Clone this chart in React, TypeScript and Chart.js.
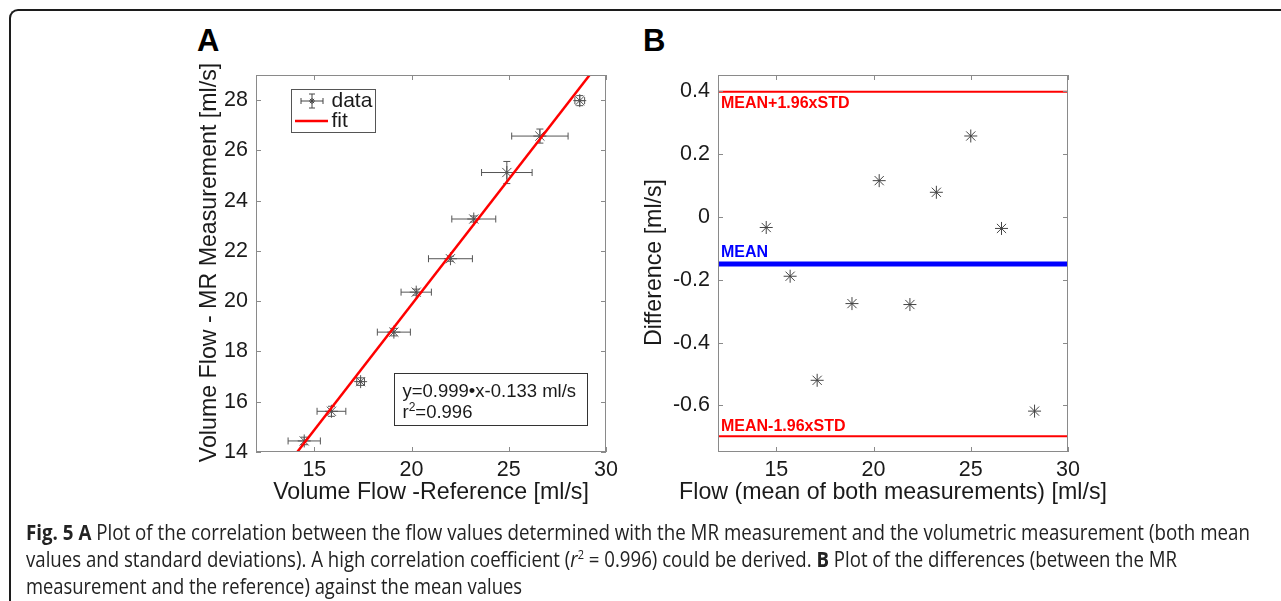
import React, { useEffect, useLayoutEffect, useRef } from "react";
import { Chart, registerables } from "chart.js";

Chart.register(...registerables);

// ---------- data (panel A) ----------
const refFlow = [14.48, 15.88, 17.38, 19.09, 20.24, 22.0, 23.2, 24.9, 26.6, 28.65];
const mrFlow = [14.44, 15.62, 16.8, 18.77, 20.36, 21.69, 23.27, 25.12, 26.57, 27.98];
const refErr = [0.83, 0.74, 0.2, 0.85, 0.78, 1.13, 1.13, 1.3, 1.45, 0.25];
const mrErr = [0.15, 0.2, 0.15, 0.15, 0.12, 0.1, 0.12, 0.44, 0.28, 0.2];
const fitX = [14.12, 29.16];
const fitY = [14.0, 29.0];

// ---------- data (panel B) ----------
const meanFlow = [14.48, 15.71, 17.1, 18.89, 20.29, 21.87, 23.23, 25.0, 26.58, 28.28];
const diffFlow = [-0.034, -0.189, -0.52, -0.276, 0.115, -0.279, 0.078, 0.257, -0.037, -0.618];
const meanDiff = -0.15;
const upperLimit = 0.398;
const lowerLimit = -0.698;

// ---------- ticks ----------
const X_TICKS = [15, 20, 25, 30];
const X_TICK_LABELS = ["15", "20", "25", "30"];
const Y_TICKS_A = [14, 16, 18, 20, 22, 24, 26, 28];
const Y_TICK_LABELS_A = ["14", "16", "18", "20", "22", "24", "26", "28"];
const Y_TICKS_B = [-0.6, -0.4, -0.2, 0, 0.2, 0.4];
const Y_TICK_LABELS_B = ["-0.6", "-0.4", "-0.2", "0", "0.2", "0.4"];

const FONT = "'Liberation Sans', Arial, Helvetica, sans-serif";
const TEXT = "#1a1a1a";
const BOX = "#8a8a8a";
const RED = "#ff0000";
const BLUE = "#0000ff";

function drawBoxAndTicks(chart: any, xt: number[], yt: number[]) {
  const { ctx, chartArea: a } = chart;
  const sx = chart.scales.x;
  const sy = chart.scales.y;
  ctx.save();
  ctx.strokeStyle = BOX;
  ctx.lineWidth = 1;
  ctx.strokeRect(a.left + 0.5, a.top + 0.5, a.right - a.left - 1, a.bottom - a.top - 1);
  ctx.beginPath();
  for (const v of xt) {
    const p = Math.round(sx.getPixelForValue(v)) + 0.5;
    ctx.moveTo(p, a.bottom);
    ctx.lineTo(p, a.bottom - 5);
    ctx.moveTo(p, a.top);
    ctx.lineTo(p, a.top + 5);
  }
  for (const v of yt) {
    const p = Math.round(sy.getPixelForValue(v)) + 0.5;
    ctx.moveTo(a.left, p);
    ctx.lineTo(a.left + 5, p);
    ctx.moveTo(a.right, p);
    ctx.lineTo(a.right - 5, p);
  }
  ctx.stroke();
  ctx.restore();
}

function drawTitles(chart: any, xTitle: string, yTitle: string, yTitleX: number, xTitleY: number) {
  const { ctx, chartArea: a } = chart;
  ctx.save();
  ctx.fillStyle = TEXT;
  ctx.font = `23.2px ${FONT}`;
  ctx.textAlign = "center";
  ctx.textBaseline = "middle";
  ctx.fillText(xTitle, (a.left + a.right) / 2, xTitleY);
  ctx.translate(yTitleX, (a.top + a.bottom) / 2 - 1);
  ctx.rotate(-Math.PI / 2);
  ctx.fillText(yTitle, 0, 0);
  ctx.restore();
}

function star(ctx: CanvasRenderingContext2D, x: number, y: number, r: number) {
  ctx.beginPath();
  ctx.moveTo(x - r, y);
  ctx.lineTo(x + r, y);
  ctx.moveTo(x, y - r);
  ctx.lineTo(x, y + r);
  const d = r * Math.SQRT1_2;
  ctx.moveTo(x - d, y - d);
  ctx.lineTo(x + d, y + d);
  ctx.moveTo(x - d, y + d);
  ctx.lineTo(x + d, y - d);
  ctx.stroke();
}

const pluginA = {
  id: "panelA",
  beforeDatasetsDraw(chart: any) {
    const { ctx } = chart;
    const sx = chart.scales.x;
    const sy = chart.scales.y;
    ctx.save();
    ctx.strokeStyle = "#555";
    ctx.lineWidth = 1;
    const cap = 3.5;
    ctx.beginPath();
    for (let i = 0; i < refFlow.length; i++) {
      const cx = sx.getPixelForValue(refFlow[i]);
      const cy = sy.getPixelForValue(mrFlow[i]);
      const x0 = sx.getPixelForValue(refFlow[i] - refErr[i]);
      const x1 = sx.getPixelForValue(refFlow[i] + refErr[i]);
      const y0 = sy.getPixelForValue(mrFlow[i] - mrErr[i]);
      const y1 = sy.getPixelForValue(mrFlow[i] + mrErr[i]);
      ctx.moveTo(x0, cy); ctx.lineTo(x1, cy);
      ctx.moveTo(x0, cy - cap); ctx.lineTo(x0, cy + cap);
      ctx.moveTo(x1, cy - cap); ctx.lineTo(x1, cy + cap);
      ctx.moveTo(cx, y0); ctx.lineTo(cx, y1);
      ctx.moveTo(cx - cap, y0); ctx.lineTo(cx + cap, y0);
      ctx.moveTo(cx - cap, y1); ctx.lineTo(cx + cap, y1);
    }
    ctx.stroke();
    ctx.fillStyle = "#222";
    for (let i = 0; i < refFlow.length; i++) {
      const cx = sx.getPixelForValue(refFlow[i]);
      const cy = sy.getPixelForValue(mrFlow[i]);
      ctx.fillRect(cx - 1, cy - 1, 2, 2);
    }
    ctx.restore();
  },
  afterDatasetsDraw(chart: any) {
    const { ctx, chartArea: a } = chart;
    drawBoxAndTicks(chart, X_TICKS, Y_TICKS_A);
    drawTitles(chart, "Volume Flow -Reference [ml/s]", "Volume Flow - MR Measurement [ml/s]", 60, 493);
    ctx.save();
    // legend
    const lx = a.left + 35;
    const ly = a.top + 14;
    ctx.fillStyle = "#fff";
    ctx.fillRect(lx, ly, 84, 43);
    ctx.strokeStyle = "#555";
    ctx.lineWidth = 1;
    ctx.strokeRect(lx + 0.5, ly + 0.5, 84, 43);
    const r1 = ly + 12;
    const ix = lx + 21;
    ctx.strokeStyle = "#444";
    ctx.beginPath();
    ctx.moveTo(ix - 11, r1); ctx.lineTo(ix + 11, r1);
    ctx.moveTo(ix - 11, r1 - 3); ctx.lineTo(ix - 11, r1 + 3);
    ctx.moveTo(ix + 11, r1 - 3); ctx.lineTo(ix + 11, r1 + 3);
    ctx.moveTo(ix, r1 - 7); ctx.lineTo(ix, r1 + 7);
    ctx.moveTo(ix - 3, r1 - 7); ctx.lineTo(ix + 3, r1 - 7);
    ctx.moveTo(ix - 3, r1 + 7); ctx.lineTo(ix + 3, r1 + 7);
    ctx.stroke();
    star(ctx, ix, r1, 3);
    const r2 = ly + 32;
    ctx.strokeStyle = RED;
    ctx.lineWidth = 2.5;
    ctx.beginPath();
    ctx.moveTo(lx + 4, r2);
    ctx.lineTo(lx + 37, r2);
    ctx.stroke();
    ctx.fillStyle = TEXT;
    ctx.font = `21px ${FONT}`;
    ctx.textBaseline = "middle";
    ctx.textAlign = "left";
    ctx.fillText("data", lx + 40.5, r1);
    ctx.fillText("fit", lx + 40.5, r2);
    // annotation box
    const bx = a.right - 212;
    const by = a.bottom - 79;
    ctx.fillStyle = "#fff";
    ctx.fillRect(bx, by, 193, 52);
    ctx.strokeStyle = "#333";
    ctx.lineWidth = 1;
    ctx.strokeRect(bx + 0.5, by + 0.5, 193, 52);
    ctx.fillStyle = TEXT;
    ctx.font = `18.5px ${FONT}`;
    ctx.textBaseline = "alphabetic";
    ctx.fillText("y=0.999\u2022x-0.133 ml/s", bx + 8.5, by + 24);
    const bl = by + 45;
    ctx.fillText("r", bx + 8.5, bl);
    const w = ctx.measureText("r").width;
    ctx.font = `12px ${FONT}`;
    ctx.fillText("2", bx + 8.5 + w, bl - 7);
    const w2 = ctx.measureText("2").width;
    ctx.font = `18.5px ${FONT}`;
    ctx.fillText("=0.996", bx + 8.5 + w + w2, bl);
    ctx.restore();
  },
};

const pluginB = {
  id: "panelB",
  afterDatasetsDraw(chart: any) {
    const { ctx, chartArea: a } = chart;
    const sy = chart.scales.y;
    drawBoxAndTicks(chart, X_TICKS, Y_TICKS_B);
    drawTitles(chart, "Flow (mean of both measurements) [ml/s]", "Difference [ml/s]", 55, 493);
    ctx.save();
    ctx.font = `bold 16px ${FONT}`;
    ctx.textBaseline = "middle";
    ctx.textAlign = "left";
    ctx.fillStyle = RED;
    ctx.fillText("MEAN+1.96xSTD", a.left + 3, sy.getPixelForValue(upperLimit) + 12);
    ctx.fillText("MEAN-1.96xSTD", a.left + 3, sy.getPixelForValue(lowerLimit) - 10);
    ctx.fillStyle = BLUE;
    ctx.fillText("MEAN", a.left + 3, sy.getPixelForValue(meanDiff) - 11.5);
    ctx.restore();
  },
};

function xScale() {
  return {
    type: "linear",
    min: 12,
    max: 30,
    afterBuildTicks: (s: any) => {
      s.ticks = X_TICKS.map((v) => ({ value: v }));
    },
    afterFit: (s: any) => {
      s.height = 68;
    },
    grid: { display: false, drawTicks: false },
    border: { display: false },
    ticks: {
      padding: 5,
      color: TEXT,
      font: { family: FONT, size: 21.5 },
      maxRotation: 0,
      callback: (_v: any, i: number) => X_TICK_LABELS[i],
    },
  };
}

function yScale(min: number, max: number, ticks: number[], labels: string[], width: number) {
  return {
    type: "linear",
    min,
    max,
    afterBuildTicks: (s: any) => {
      s.ticks = ticks.map((v) => ({ value: v }));
    },
    afterFit: (s: any) => {
      s.width = width;
    },
    grid: { display: false, drawTicks: false },
    border: { display: false },
    ticks: {
      padding: 8,
      color: TEXT,
      font: { family: FONT, size: 21.5 },
      callback: (_v: any, i: number) => labels[i],
    },
  };
}

const CAPTION_WIDTHS = [1224, 1151, 496];

export default function App() {
  const refA = useRef<HTMLCanvasElement | null>(null);
  const refB = useRef<HTMLCanvasElement | null>(null);
  const capRefs = useRef<(HTMLDivElement | null)[]>([]);

  useEffect(() => {
    const chartA = new Chart(refA.current as HTMLCanvasElement, {
      type: "scatter",
      data: {
        datasets: [
          {
            label: "fit",
            data: fitX.map((x, i) => ({ x, y: fitY[i] })),
            showLine: true,
            borderColor: RED,
            borderWidth: 2.5,
            pointRadius: 0,
            order: 0,
          },
          {
            label: "data",
            data: refFlow.map((x, i) => ({ x, y: mrFlow[i] })),
            pointStyle: "star",
            pointRadius: 6.5,
            borderColor: "#555",
            backgroundColor: "#555",
            pointBorderWidth: 1,
            order: 1,
          },
        ],
      } as any,
      options: {
        responsive: false,
        animation: false,
        layout: { padding: { left: 0, top: 75, right: 24, bottom: 0 } },
        plugins: { legend: { display: false }, tooltip: { enabled: false } },
        scales: {
          x: xScale() as any,
          y: yScale(14, 29, Y_TICKS_A, Y_TICK_LABELS_A, 106) as any,
        },
      },
      plugins: [pluginA],
    });

    const lineData = (v: number) => [
      { x: 12, y: v },
      { x: 30, y: v },
    ];
    const chartB = new Chart(refB.current as HTMLCanvasElement, {
      type: "scatter",
      data: {
        datasets: [
          {
            label: "upper",
            data: lineData(upperLimit),
            showLine: true,
            borderColor: RED,
            borderWidth: 2,
            pointRadius: 0,
          },
          {
            label: "mean",
            data: lineData(meanDiff),
            showLine: true,
            borderColor: BLUE,
            borderWidth: 5,
            pointRadius: 0,
          },
          {
            label: "lower",
            data: lineData(lowerLimit),
            showLine: true,
            borderColor: RED,
            borderWidth: 2,
            pointRadius: 0,
          },
          {
            label: "diff",
            data: meanFlow.map((x, i) => ({ x, y: diffFlow[i] })),
            pointStyle: "star",
            pointRadius: 6.5,
            borderColor: "#444",
            backgroundColor: "#444",
            pointBorderWidth: 1,
          },
        ],
      } as any,
      options: {
        responsive: false,
        animation: false,
        layout: { padding: { left: 0, top: 75, right: 92, bottom: 0 } },
        plugins: { legend: { display: false }, tooltip: { enabled: false } },
        scales: {
          x: xScale() as any,
          y: yScale(-0.748, 0.451, Y_TICKS_B, Y_TICK_LABELS_B, 118) as any,
        },
      },
      plugins: [pluginB],
    });

    return () => {
      chartA.destroy();
      chartB.destroy();
    };
  }, []);

  useLayoutEffect(() => {
    const fit = () => {
      capRefs.current.forEach((el, i) => {
        if (!el) return;
        el.style.transform = "none";
        const w = el.getBoundingClientRect().width;
        if (w > 0) el.style.transform = `scaleX(${CAPTION_WIDTHS[i] / w})`;
      });
    };
    fit();
    if ((document as any).fonts && (document as any).fonts.ready) {
      (document as any).fonts.ready.then(fit);
    }
  }, []);

  const capStyle = (top: number): React.CSSProperties => ({
    position: "absolute",
    left: 26,
    top,
    whiteSpace: "nowrap",
    fontFamily: "'Open Sans', 'Noto Sans', sans-serif",
    fontSize: 22,
    lineHeight: "27px",
    color: "#222",
    transformOrigin: "0 0",
  });

  const letter: React.CSSProperties = {
    position: "absolute",
    top: 25,
    fontFamily: FONT,
    fontWeight: 700,
    fontSize: 31,
    lineHeight: "31px",
    color: "#000",
  };

  return (
    <div
      style={{
        position: "absolute",
        left: 0,
        top: 0,
        width: 1281,
        height: 601,
        overflow: "hidden",
        background: "#fff",
      }}
    >
      <div
        style={{
          position: "absolute",
          left: 9,
          top: 9,
          width: 1400,
          height: 700,
          borderLeft: "2px solid #1c1c1c",
          borderTop: "2px solid #1c1c1c",
          borderTopLeftRadius: 9,
        }}
      />
      <div style={{ ...letter, left: 197 }}>A</div>
      <div style={{ ...letter, left: 643 }}>B</div>
      <canvas
        ref={refA}
        width={480}
        height={520}
        style={{ position: "absolute", left: 150, top: 0, width: 480, height: 520 }}
      />
      <canvas
        ref={refB}
        width={560}
        height={520}
        style={{ position: "absolute", left: 600, top: 0, width: 560, height: 520 }}
      />
      <div ref={(el) => { capRefs.current[0] = el; }} style={capStyle(518)}>
        <b>Fig. 5</b> <b>A</b> Plot of the correlation between the flow values determined with the MR measurement and the
        volumetric measurement (both mean
      </div>
      <div ref={(el) => { capRefs.current[1] = el; }} style={capStyle(545)}>
        values and standard deviations). A high correlation coefficient (<i>r</i>
        <sup style={{ fontSize: 13, lineHeight: 0 }}>2</sup> = 0.996) could be derived. <b>B</b> Plot of the differences
        (between the MR
      </div>
      <div ref={(el) => { capRefs.current[2] = el; }} style={capStyle(572)}>
        measurement and the reference) against the mean values
      </div>
    </div>
  );
}
